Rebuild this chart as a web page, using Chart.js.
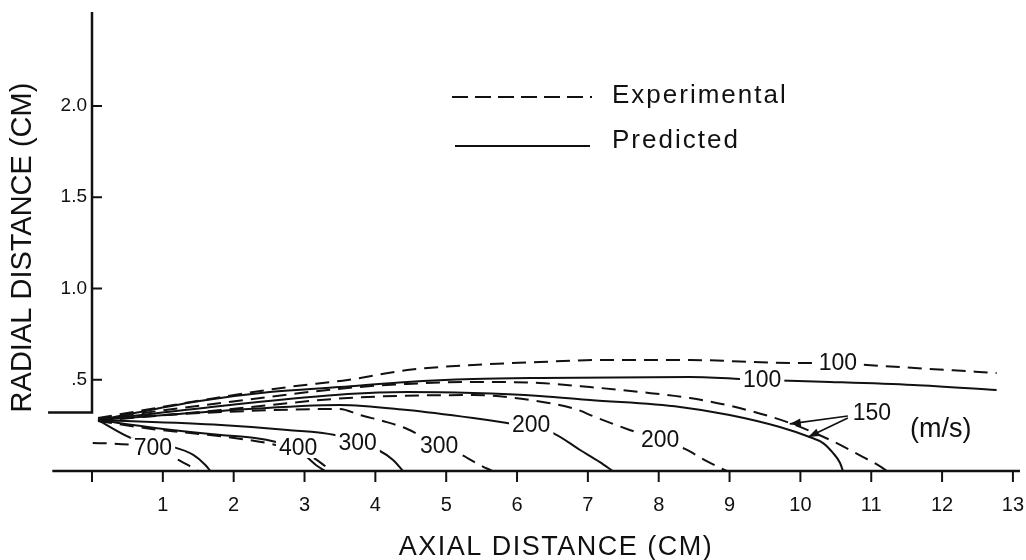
<!DOCTYPE html>
<html><head><meta charset="utf-8">
<script src="https://cdn.jsdelivr.net/npm/chart.js@4.4.0/dist/chart.umd.min.js"></script>
<style>html,body{margin:0;padding:0;background:#fff}</style>
</head><body>
<canvas id="c" width="1026" height="560"></canvas>
<script>
// ---- axis ticks ----
const xTickValues = [0,1,2,3,4,5,6,7,8,9,10,11,12,13];
const xTickLabels = ['','1','2','3','4','5','6','7','8','9','10','11','12','13'];
const yTickValues = [0.5,1.0,1.5,2.0];
const yTickLabels = ['.5','1.0','1.5','2.0'];
const nozzleRadius = 0.32;

// ---- velocity contours: [axial cm, radial cm] ----
const exp700  = [[0.01,0.153],[0.30,0.150],[0.86,0.125],[1.17,0.071],[1.38,0.027],[1.50,0]];
const pred700 = [[0.085,0.279],[0.55,0.181],[0.86,0.150],[1.14,0.132],[1.43,0.088],[1.60,0.033],[1.67,0]];
const exp400  = [[0.085,0.274],[0.89,0.228],[1.82,0.190],[2.51,0.150],[2.91,0.110],[3.15,0.066],[3.30,0.025],[3.40,0]];
const pred400 = [[0.085,0.279],[0.89,0.236],[1.82,0.197],[2.30,0.181],[2.60,0.159],[2.91,0.120],[3.05,0.071],[3.16,0.033],[3.29,0]];
const exp300  = [[0.085,0.285],[1.82,0.323],[3.50,0.340],[3.78,0.307],[4.16,0.268],[4.45,0.230],[4.90,0.137],[5.22,0.088],[5.45,0.038],[5.65,0]];
const pred300 = [[0.085,0.279],[1.82,0.252],[2.76,0.225],[3.43,0.197],[3.75,0.153],[4.04,0.115],[4.25,0.060],[4.39,0]];
const exp200  = [[0.085,0.274],[1.82,0.334],[3.61,0.400],[5.38,0.416],[6.18,0.389],[6.82,0.340],[7.10,0.296],[7.59,0.225],[8.02,0.170],[8.37,0.121],[8.65,0.060],[8.96,0]];
const pred200 = [[0.085,0.279],[1.82,0.329],[3.50,0.362],[4.45,0.334],[5.38,0.290],[5.86,0.263],[6.20,0.241],[6.51,0.208],[6.89,0.115],[7.17,0.049],[7.35,0]];
const exp150  = [[0.085,0.285],[1.82,0.373],[3.61,0.455],[4.45,0.477],[5.38,0.488],[6.32,0.482],[7.03,0.460],[7.73,0.433],[8.44,0.400],[9.14,0.345],[9.85,0.263],[10.42,0.170],[10.88,0.077],[11.12,0.027],[11.22,0]];
const pred150 = [[0.085,0.279],[1.82,0.356],[3.61,0.422],[4.45,0.433],[5.38,0.427],[6.32,0.411],[7.03,0.389],[8.30,0.351],[9.00,0.307],[9.71,0.241],[10.13,0.186],[10.32,0.153],[10.46,0.099],[10.56,0.044],[10.60,0]];
const exp100  = [[0.085,0.290],[1.82,0.405],[2.77,0.460],[3.61,0.499],[4.45,0.553],[5.38,0.581],[6.32,0.597],[7.17,0.608],[8.44,0.608],[9.85,0.592],[10.53,0.592],[10.94,0.581],[12.77,0.537]];
const pred100 = [[0.085,0.279],[1.52,0.384],[2.51,0.433],[3.50,0.460],[4.45,0.488],[5.38,0.504],[6.32,0.510],[8.44,0.515],[9.46,0.499],[10.42,0.488],[11.59,0.471],[12.77,0.444]];

// ---- contour labels (data coordinates) ----
const contourLabelText = ['700','400','300','300','200','200','100','100','150'];
const contourLabelX    = [0.86, 2.91, 3.75, 4.90, 6.20, 8.02, 9.46, 10.53, 11.01];
const contourLabelY    = [0.13, 0.126,0.153,0.137,0.255,0.170,0.499,0.592, 0.318];
const unitsText = '(m/s)';
const unitsX = 11.98, unitsY = 0.225;
// leader arrows from the "150" label to the two 150 m/s contours
const arrowFromX = [10.67, 10.67];
const arrowFromY = [0.301, 0.290];
const arrowToX   = [9.85, 10.11];
const arrowToY   = [0.258, 0.186];

const legendText = ['Experimental','Predicted'];

const FAMILY = "'Liberation Sans', Arial, sans-serif";
const INK = '#111';

const series = [
  {pts: exp700, exp:true},  {pts: pred700, exp:false},
  {pts: exp400, exp:true},  {pts: pred400, exp:false},
  {pts: exp300, exp:true},  {pts: pred300, exp:false},
  {pts: exp200, exp:true},  {pts: pred200, exp:false},
  {pts: exp150, exp:true},  {pts: pred150, exp:false},
  {pts: exp100, exp:true},  {pts: pred100, exp:false}
];

const datasets = series.map(s => ({
  data: s.pts.map(p => ({x: p[0], y: p[1]})),
  borderColor: INK,
  borderWidth: 2,
  borderDash: s.exp ? [14, 8] : [],
  pointRadius: 0,
  fill: false,
  cubicInterpolationMode: 'monotone',
  clip: 6
}));

function arrow(ctx, x0, y0, x1, y1) {
  ctx.beginPath(); ctx.moveTo(x0, y0); ctx.lineTo(x1, y1); ctx.stroke();
  const a = Math.atan2(y1 - y0, x1 - x0), L = 11, W = 4;
  ctx.beginPath();
  ctx.moveTo(x1, y1);
  ctx.lineTo(x1 - L*Math.cos(a) + W*Math.sin(a), y1 - L*Math.sin(a) - W*Math.cos(a));
  ctx.lineTo(x1 - L*Math.cos(a) - W*Math.sin(a), y1 - L*Math.sin(a) + W*Math.cos(a));
  ctx.closePath(); ctx.fill();
}

const decor = {
  id: 'decor',
  afterDatasetsDraw(chart) {
    const {ctx, scales: {x, y}} = chart;
    ctx.save();
    ctx.strokeStyle = INK; ctx.fillStyle = INK; ctx.setLineDash([]);
    const y0 = y.getPixelForValue(0), x0 = x.getPixelForValue(0);
    // axes
    ctx.lineWidth = 2.5;
    ctx.beginPath();
    ctx.moveTo(x.getPixelForValue(-0.56), y0);
    ctx.lineTo(x.getPixelForValue(13.1), y0);
    ctx.stroke();
    ctx.beginPath();
    ctx.moveTo(x0, y.top);
    ctx.lineTo(x0, y.getPixelForValue(nozzleRadius));
    ctx.lineTo(x.getPixelForValue(-0.62), y.getPixelForValue(nozzleRadius));
    ctx.stroke();
    // tick marks
    ctx.lineWidth = 2;
    yTickValues.forEach(v => {
      const py = y.getPixelForValue(v);
      ctx.beginPath(); ctx.moveTo(x0, py); ctx.lineTo(x0 + 10, py); ctx.stroke();
    });
    xTickValues.forEach(v => {
      const px = x.getPixelForValue(v);
      ctx.beginPath(); ctx.moveTo(px, y0); ctx.lineTo(px, y0 + 11); ctx.stroke();
    });
    // contour labels
    ctx.font = '23px ' + FAMILY;
    ctx.textAlign = 'center'; ctx.textBaseline = 'middle';
    contourLabelText.forEach((t, i) => {
      const px = x.getPixelForValue(contourLabelX[i]);
      const py = y.getPixelForValue(contourLabelY[i]);
      const w = ctx.measureText(t).width;
      ctx.fillStyle = '#fff'; ctx.fillRect(px - w/2 - 3, py - 10, w + 6, 20);
      ctx.fillStyle = INK; ctx.fillText(t, px, py + 1);
    });
    ctx.font = '27px ' + FAMILY;
    ctx.fillText(unitsText, x.getPixelForValue(unitsX), y.getPixelForValue(unitsY));
    // arrows
    ctx.lineWidth = 1.6;
    arrowFromX.forEach((v, i) => {
      arrow(ctx, x.getPixelForValue(v), y.getPixelForValue(arrowFromY[i]),
                 x.getPixelForValue(arrowToX[i]), y.getPixelForValue(arrowToY[i]));
    });
    // legend
    ctx.lineWidth = 2;
    ctx.setLineDash([16, 7]);
    ctx.beginPath(); ctx.moveTo(452, 97); ctx.lineTo(592, 97); ctx.stroke();
    ctx.setLineDash([]);
    ctx.beginPath(); ctx.moveTo(455, 146); ctx.lineTo(590, 146); ctx.stroke();
    ctx.font = '26px ' + FAMILY;
    ctx.textAlign = 'left';
    ctx.letterSpacing = '2px';
    ctx.fillText(legendText[0], 612, 96);
    ctx.fillText(legendText[1], 612, 141);
    // axis titles
    ctx.textAlign = 'center';
    ctx.font = '27px ' + FAMILY;
    ctx.letterSpacing = '1.5px';
    ctx.fillText('AXIAL DISTANCE (CM)', (x.left + x.right) / 2, 548);
    ctx.letterSpacing = '0px';
    ctx.translate(23, (y.top + y.bottom) / 2 + 6);
    ctx.rotate(-Math.PI / 2);
    ctx.font = '29px ' + FAMILY;
    ctx.fillText('RADIAL DISTANCE (CM)', 0, 0);
    ctx.restore();
  }
};

new Chart(document.getElementById('c'), {
  type: 'line',
  data: {datasets},
  plugins: [decor],
  options: {
    responsive: false, animation: false, devicePixelRatio: 1,
    layout: {padding: {top: 12, right: 6, left: 0, bottom: 0}},
    plugins: {legend: {display: false}, tooltip: {enabled: false}},
    scales: {
      x: {
        type: 'linear', min: 0, max: 13.1,
        afterBuildTicks: s => { s.ticks = xTickValues.map(v => ({value: v})); },
        afterFit: s => { s.height = 89; s.paddingLeft = 0; s.paddingRight = 0; },
        border: {display: false},
        grid: {display: false, drawOnChartArea: false, drawTicks: true, tickLength: 10},
        ticks: {autoSkip: false, maxRotation: 0, padding: 12, color: INK,
                font: {family: FAMILY, size: 20}, callback: (v, i) => xTickLabels[i]}
      },
      y: {
        type: 'linear', min: 0, max: 2.515,
        afterBuildTicks: s => { s.ticks = yTickValues.map(v => ({value: v})); },
        afterFit: s => { s.width = 92; s.paddingTop = 0; s.paddingBottom = 0; },
        border: {display: false},
        grid: {display: false, drawTicks: false},
        ticks: {padding: 5, color: INK, font: {family: FAMILY, size: 19},
                callback: (v, i) => yTickLabels[i]}
      }
    }
  }
});
</script>
</body></html>
